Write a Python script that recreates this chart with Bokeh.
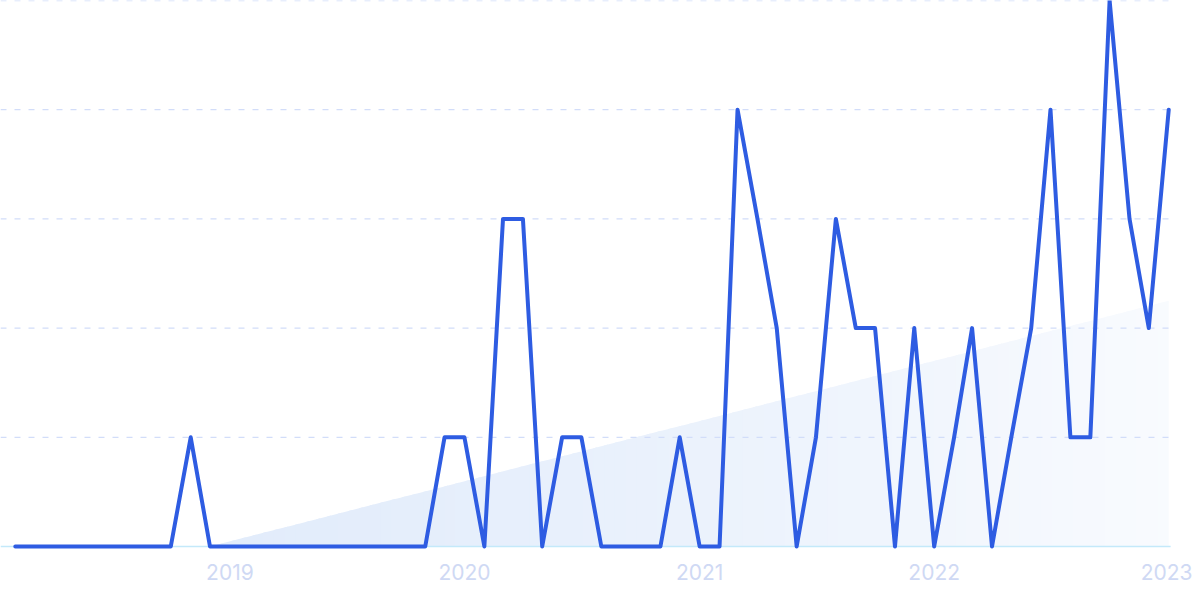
import pandas as pd
from bokeh.plotting import figure
from bokeh.models import Range1d, FixedTicker, DatetimeTickFormatter
from bokeh.embed import file_html
from bokeh.resources import INLINE

# ---- data ----
months = pd.date_range("2018-02-01", periods=60, freq="MS")
values = [0, 0, 0, 0, 0, 0, 0, 0, 0, 1,
          0, 0, 0, 0, 0, 0, 0, 0, 0, 0,
          0, 0, 1, 1, 0, 3, 3, 0, 1, 1,
          0, 0, 0, 0, 1, 0, 0, 4, 3, 2,
          0, 1, 3, 2, 2, 0, 2, 0, 1, 2,
          0, 1, 2, 4, 1, 1, 5, 3, 2, 4]
grid_levels = [0, 1, 2, 3, 4, 5]
tick_years = ["2019", "2020", "2021", "2022", "2023"]
trend_start = (pd.Timestamp("2018-12-01"), 0.0)
trend_end = (pd.Timestamp("2023-01-01"), 2.25)

LINE = "#2e5ce2"
LABEL = "#cfd9f4"
GRID = "#d2ddf9"
BASE = "#c4e9fa"
AREA_RGB = (0xe2, 0xec, 0xfb)

X0 = pd.Timestamp("2018-01-09")
X1 = pd.Timestamp("2023-02-07")

p = figure(width=1192, height=591, output_backend="svg", toolbar_location=None,
           x_axis_type="datetime",
           x_range=Range1d(X0, X1),
           y_range=Range1d(-0.0458, 5.0),
           min_border_left=0, min_border_right=0, min_border_top=0, min_border_bottom=40)
p.outline_line_color = None
p.background_fill_color = "white"
p.border_fill_color = "white"
p.xgrid.visible = False
p.ygrid.visible = False
p.yaxis.visible = False

# trend area drawn as horizontal gradient strips (opaque, slightly overlapping)
n = 90
t0, v0 = trend_start
t1, v1 = trend_end
span = (t1 - t0)
xs, ys, colors = [], [], []
for k in range(n):
    a = k / n
    b = (k + 1) / n
    xa = t0 + span * a
    xb = t0 + span * min(1.0, b + 0.004)
    ya = v0 + (v1 - v0) * a
    yb = v0 + (v1 - v0) * min(1.0, b + 0.004)
    w = 0.78 * (a ** 1.3)
    r, g, bl = [round(c + (255 - c) * w) for c in AREA_RGB]
    xs.append([xa, xb, xb, xa])
    ys.append([0, 0, yb, ya])
    colors.append(f"#{r:02x}{g:02x}{bl:02x}")
p.patches(xs, ys, fill_color=colors, line_color=None)

# dashed grid lines
gx0 = [X0] * len(grid_levels)
gx1 = [months[-1] + pd.Timedelta(days=3)] * len(grid_levels)
p.segment(x0=gx0[1:], y0=grid_levels[1:], x1=gx1[1:], y1=grid_levels[1:],
          line_color=GRID, line_width=1.3, line_dash="6 8")
# baseline
p.segment(x0=gx0[:1], y0=grid_levels[:1], x1=gx1[:1], y1=grid_levels[:1],
          line_color=BASE, line_width=1.5)

p.line(months, values, line_color=LINE, line_width=4, line_join="round", line_cap="round")

ticks = [pd.Timestamp(f"{y}-01-01").value // 10**6 for y in tick_years]
p.xaxis.ticker = FixedTicker(ticks=ticks)
p.xaxis.formatter = DatetimeTickFormatter(years="%Y", months="%Y", days="%Y", hours="%Y")
p.xaxis.axis_line_color = None
p.xaxis.major_tick_line_color = None
p.xaxis.minor_tick_line_color = None
p.xaxis.major_tick_out = 0
p.xaxis.major_tick_in = 0
p.xaxis.major_label_standoff = 12
p.xaxis.major_label_text_color = LABEL
p.xaxis.major_label_text_font = "Inter"
p.xaxis.major_label_text_font_size = "21px"

open("out.html", "w").write(file_html(p, INLINE))
